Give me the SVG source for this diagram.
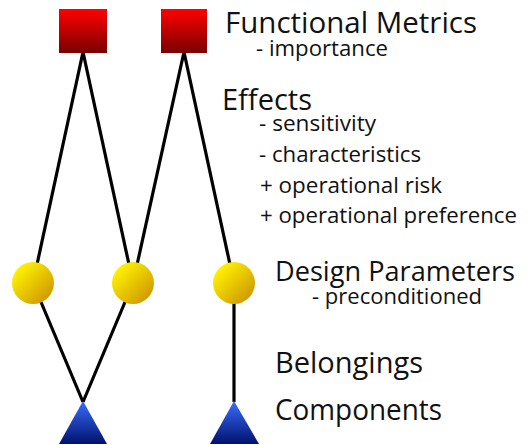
<svg xmlns="http://www.w3.org/2000/svg" width="528" height="445" viewBox="0 0 528 445">
<style>
.main{font-family:"Open Sans","Liberation Sans",sans-serif;font-size:29px;fill:#111}
.sub{font-family:"Open Sans","Liberation Sans",sans-serif;font-size:22px;fill:#111}
.edge{stroke:#000;stroke-width:3.2;fill:none}
</style>
<defs>
<linearGradient id="red" x1="0" y1="0" x2="0" y2="1"><stop offset="0" stop-color="#ff0000"/><stop offset="1" stop-color="#7a0000"/></linearGradient>
<linearGradient id="yel" x1="0.15" y1="0.15" x2="0.85" y2="0.85"><stop offset="0" stop-color="#fff200"/><stop offset="1" stop-color="#d19c00"/></linearGradient>
<linearGradient id="blu" x1="0" y1="0" x2="0" y2="1"><stop offset="0" stop-color="#3a6cff"/><stop offset="1" stop-color="#00126b"/></linearGradient>
</defs>
<g id="connectors">
<line class="edge" x1="83" y1="52" x2="33" y2="283"/>
<line class="edge" x1="83" y1="52" x2="133" y2="283"/>
<line class="edge" x1="184" y1="52" x2="133" y2="283"/>
<line class="edge" x1="184" y1="52" x2="234" y2="283"/>
<line class="edge" x1="33" y1="283" x2="83" y2="402"/>
<line class="edge" x1="133" y1="283" x2="83" y2="402"/>
<line class="edge" x1="234" y1="283" x2="234" y2="402"/>
</g>
<g id="metric1"><rect x="59" y="9" width="48" height="44" fill="url(#red)"/></g>
<g id="metric2"><rect x="161" y="9" width="46" height="44" fill="url(#red)"/></g>
<g id="param1"><circle cx="33" cy="283" r="21" fill="url(#yel)"/></g>
<g id="param2"><circle cx="133" cy="283" r="21" fill="url(#yel)"/></g>
<g id="param3"><circle cx="234" cy="283" r="21" fill="url(#yel)"/></g>
<g id="comp1"><polygon points="83,401 107,444 59,444" fill="url(#blu)"/></g>
<g id="comp2"><polygon points="234,401 259,444 210,444" fill="url(#blu)"/></g>
<g id="labels">
<text class="main" x="225" y="33" textLength="252" lengthAdjust="spacingAndGlyphs">Functional Metrics</text>
<text class="sub" x="256" y="56" textLength="132" lengthAdjust="spacingAndGlyphs">- importance</text>
<text class="main" x="222" y="110" textLength="90" lengthAdjust="spacingAndGlyphs">Effects</text>
<text class="sub" x="259" y="131" textLength="117" lengthAdjust="spacingAndGlyphs">- sensitivity</text>
<text class="sub" x="259" y="162" textLength="162" lengthAdjust="spacingAndGlyphs">- characteristics</text>
<text class="sub" x="260" y="193" textLength="182" lengthAdjust="spacingAndGlyphs">+ operational risk</text>
<text class="sub" x="260" y="223" textLength="257" lengthAdjust="spacingAndGlyphs">+ operational preference</text>
<text class="main" x="275" y="281" style="font-size:27px" textLength="240" lengthAdjust="spacingAndGlyphs">Design Parameters</text>
<text class="sub" x="312" y="304" textLength="170" lengthAdjust="spacingAndGlyphs">- preconditioned</text>
<text class="main" x="275" y="373" textLength="148" lengthAdjust="spacingAndGlyphs">Belongings</text>
<text class="main" x="275" y="420" textLength="167" lengthAdjust="spacingAndGlyphs">Components</text>
</g>
</svg>
